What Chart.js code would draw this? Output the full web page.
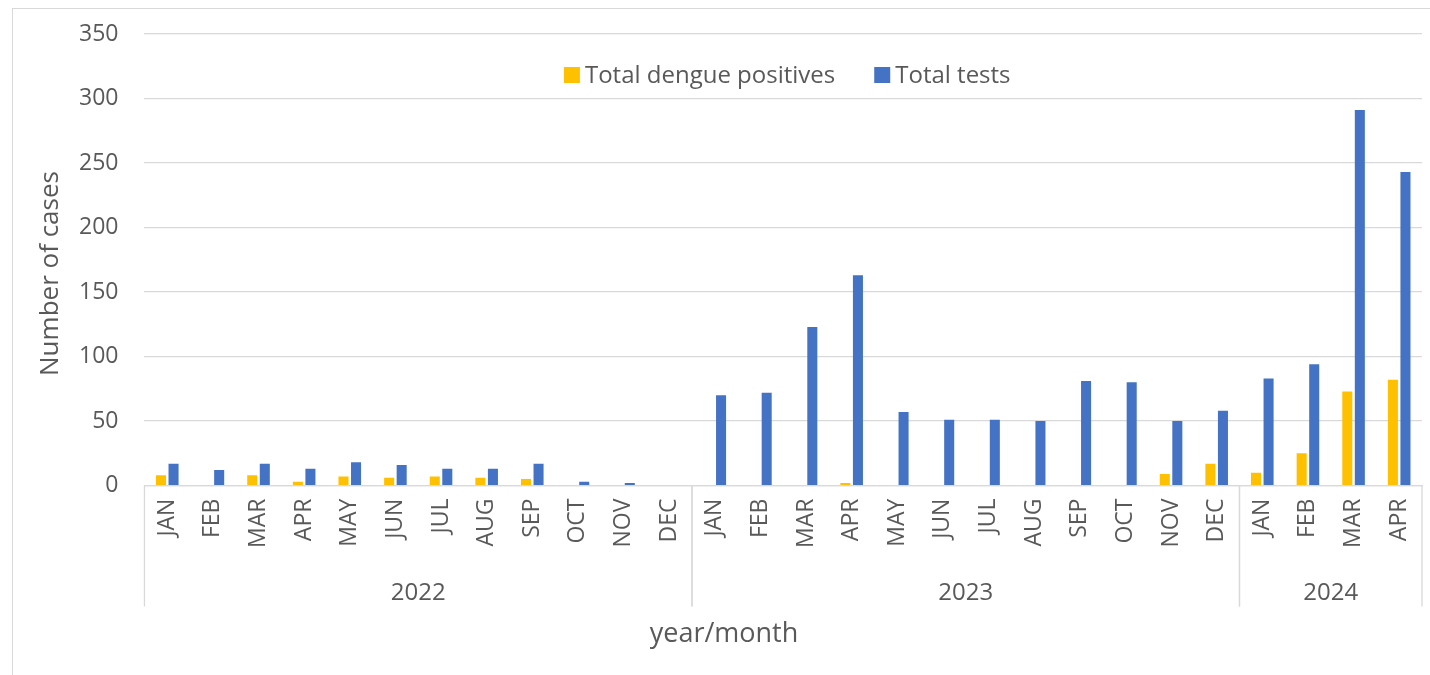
<!DOCTYPE html>
<html>
<head>
<meta charset="utf-8">
<script src="https://cdn.jsdelivr.net/npm/chart.js@4.4.1/dist/chart.umd.min.js"></script>
<style>
  html, body { margin: 0; padding: 0; background: #fff; }
  .wrap { position: relative; width: 1430px; height: 675px; overflow: hidden; }
  .frame { position: absolute; left: 12px; top: 8px; width: 1440px; height: 700px; border: 1px solid #d9d9d9; }
  canvas { position: absolute; left: 0; top: 0; }
</style>
</head>
<body>
<div class="wrap">
  <div class="frame"></div>
  <canvas id="chartDengue" width="1430" height="675"></canvas>
</div>
<script>
const monthNames = ['JAN', 'FEB', 'MAR', 'APR', 'MAY', 'JUN', 'JUL', 'AUG', 'SEP', 'OCT', 'NOV', 'DEC'];
const years = ['2022', '2023', '2024'];
const monthsPerYear = [12, 12, 4];
const positives = [8, 0, 8, 3, 7, 6, 7, 6, 5, 0, 0, 0,
                   0, 0, 0, 2, 0, 0, 0, 0, 0, 0, 9, 17,
                   10, 25, 73, 82];
const tests = [17, 12, 17, 13, 18, 16, 13, 13, 17, 3, 2, 0,
               70, 72, 123, 163, 57, 51, 51, 50, 81, 80, 50, 58,
               83, 94, 291, 243];
const yTicks = { min: 0, max: 350, step: 50 };
const xTitle = 'year/month';
const yTitle = 'Number of cases';

const labels = [];
monthsPerYear.forEach((n) => {
  for (let i = 0; i < n; i++) labels.push(monthNames[i]);
});

const textGrey = '#595959';
const lineGrey = '#d9d9d9';
Chart.defaults.font.family = "'Open Sans', sans-serif";
Chart.defaults.color = textGrey;

// second level of the category axis (years + separators) and the axis titles,
// which Excel centres on the whole chart box rather than on the plot
const yearGroups = {
  id: 'yearGroups',
  afterDraw(chart) {
    const x = chart.scales.x;
    const y = chart.scales.y;
    const ctx = chart.ctx;
    const top = chart.chartArea.bottom;
    const bottom = top + 121;
    const edge = (i) => {
      if (i === 0) return x.left;
      if (i === labels.length) return x.right;
      return (x.getPixelForValue(i - 1) + x.getPixelForValue(i)) / 2;
    };
    ctx.save();
    ctx.strokeStyle = lineGrey;
    ctx.lineWidth = 1.3;
    ctx.fillStyle = textGrey;
    ctx.font = "24px 'Open Sans', sans-serif";
    ctx.textAlign = 'center';
    ctx.textBaseline = 'middle';
    let start = 0;
    years.forEach((yr, k) => {
      const end = start + monthsPerYear[k];
      const left = edge(start);
      const right = edge(end);
      ctx.beginPath();
      ctx.moveTo(left, top);
      ctx.lineTo(left, bottom);
      ctx.moveTo(right, top);
      ctx.lineTo(right, bottom);
      ctx.stroke();
      ctx.fillText(yr, (left + right) / 2, top + 108);
      start = end;
    });

    ctx.font = "27px 'Open Sans', sans-serif";
    ctx.fillText(xTitle, chart.width / 2 + 9, x.bottom - 17);

    ctx.font = "26px 'Open Sans', sans-serif";
    ctx.translate(y.left + 25, chart.height / 2 - 64);
    ctx.rotate(-Math.PI / 2);
    ctx.fillText(yTitle, 0, 0);
    ctx.restore();
  }
};

// horizontal legend sitting inside the plot, near the top
const topLegend = {
  id: 'topLegend',
  afterDatasetsDraw(chart) {
    const ctx = chart.ctx;
    const area = chart.chartArea;
    const y = area.top + 41;
    const box = 16;
    const gap = 39;
    ctx.save();
    ctx.font = "24px 'Open Sans', sans-serif";
    ctx.textBaseline = 'middle';
    ctx.textAlign = 'left';
    const items = chart.data.datasets.map((ds) => ({
      text: ds.label,
      color: ds.backgroundColor,
      w: box + 5 + ctx.measureText(ds.label).width
    }));
    const total = items.reduce((s, it) => s + it.w, 0) + gap * (items.length - 1);
    let x = (area.left + area.right) / 2 - total / 2 + 4;
    items.forEach((it) => {
      ctx.fillStyle = it.color;
      ctx.fillRect(x, y - box / 2, box, box);
      ctx.fillStyle = textGrey;
      ctx.fillText(it.text, x + box + 5, y + 1);
      x += it.w + gap;
    });
    ctx.restore();
  }
};

new Chart(document.getElementById('chartDengue'), {
  type: 'bar',
  data: {
    labels: labels,
    datasets: [
      {
        label: 'Total dengue positives',
        data: positives,
        backgroundColor: '#ffc000'
      },
      {
        label: 'Total tests',
        data: tests,
        backgroundColor: '#4472c4'
      }
    ]
  },
  options: {
    responsive: false,
    animation: false,
    categoryPercentage: 0.55,
    barPercentage: 0.8,
    layout: { padding: { top: 34, left: 26, right: 8, bottom: 24 } },
    plugins: {
      legend: { display: false },
      tooltip: { enabled: false }
    },
    scales: {
      x: {
        afterFit: (s) => {
          s.paddingLeft = 0;
          s.paddingRight = 0;
          s.height += 90; // room for year row and axis title
        },
        grid: { drawOnChartArea: false, drawTicks: false },
        border: { color: lineGrey, width: 1.3 },
        ticks: {
          autoSkip: false,
          minRotation: 90,
          maxRotation: 90,
          padding: 13,
          color: textGrey,
          font: { size: 23 }
        }
      },
      y: {
        min: yTicks.min,
        max: yTicks.max,
        afterFit: (s) => {
          s.paddingTop = 0;
          s.paddingBottom = 0;
          s.width += 27; // room for axis title
        },
        ticks: {
          stepSize: yTicks.step,
          padding: 26,
          color: textGrey,
          font: { size: 23 }
        },
        grid: { color: lineGrey, lineWidth: 1.3, drawTicks: false },
        border: { display: false }
      }
    }
  },
  plugins: [yearGroups, topLegend]
});
</script>
</body>
</html>
